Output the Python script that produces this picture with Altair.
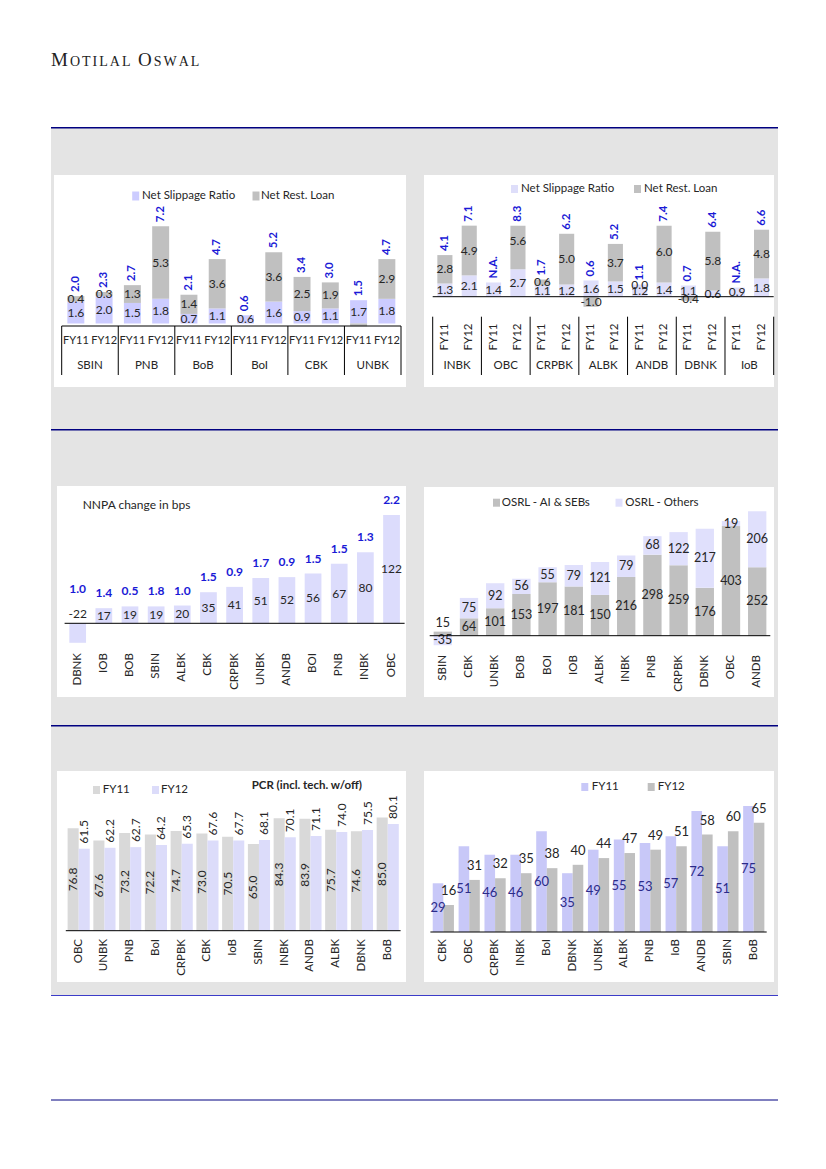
import altair as alt
import pandas as pd

# ---------------- chart values ----------------
years = ["FY11", "FY12"]

banks1 = ["SBIN", "PNB", "BoB", "BoI", "CBK", "UNBK"]
slip1 = [1.6, 2.0, 1.5, 1.8, 0.7, 1.1, 0.6, 1.6, 0.9, 1.1, 1.7, 1.8]
rest1 = [0.4, 0.3, 1.3, 5.3, 1.4, 3.6, 0.0, 3.6, 2.5, 1.9, -0.2, 2.9]
total1 = [2.0, 2.3, 2.7, 7.2, 2.1, 4.7, 0.6, 5.2, 3.4, 3.0, 1.5, 4.7]

banks2 = ["INBK", "OBC", "CRPBK", "ALBK", "ANDB", "DBNK", "IoB"]
slip2 = [1.3, 2.1, 1.4, 2.7, 1.1, 1.2, 1.6, 1.5, 1.2, 1.4, 1.1, 0.6, 0.9, 1.8]
rest2 = [2.8, 4.9, None, 5.6, 0.6, 5.0, -1.0, 3.7, 0.0, 6.0, -0.4, 5.8, None, 4.8]
total2 = [4.1, 7.1, None, 8.3, 1.7, 6.2, 0.6, 5.2, 1.1, 7.4, 0.7, 6.4, None, 6.6]

banks3 = ["DBNK", "IOB", "BOB", "SBIN", "ALBK", "CBK", "CRPBK", "UNBK", "ANDB", "BOI", "PNB", "INBK", "OBC"]
nnpa_chg = [-22, 17, 19, 19, 20, 35, 41, 51, 52, 56, 67, 80, 122]
nnpa_fy12 = [1.0, 1.4, 0.5, 1.8, 1.0, 1.5, 0.9, 1.7, 0.9, 1.5, 1.5, 1.3, 2.2]

banks4 = ["SBIN", "CBK", "UNBK", "BOB", "BOI", "IOB", "ALBK", "INBK", "PNB", "CRPBK", "DBNK", "OBC", "ANDB"]
osrl_ai = [15, 64, 101, 153, 197, 181, 150, 216, 298, 259, 176, 403, 252]
osrl_oth = [-35, 75, 92, 56, 55, 79, 121, 79, 68, 122, 217, 19, 206]

banks5 = ["OBC", "UNBK", "PNB", "BoI", "CRPBK", "CBK", "IoB", "SBIN", "INBK", "ANDB", "ALBK", "DBNK", "BoB"]
pcr_fy11 = [76.8, 67.6, 73.2, 72.2, 74.7, 73.0, 70.5, 65.0, 84.3, 83.9, 75.7, 74.6, 85.0]
pcr_fy12 = [61.5, 62.2, 62.7, 64.2, 65.3, 67.6, 67.7, 68.1, 70.1, 71.1, 74.0, 75.5, 80.1]

banks6 = ["CBK", "OBC", "CRPBK", "INBK", "BoI", "DBNK", "UNBK", "ALBK", "PNB", "IoB", "ANDB", "SBIN", "BoB"]
pcr6_fy11 = [29, 51, 46, 46, 60, 35, 49, 55, 53, 57, 72, 51, 75]
pcr6_fy12 = [16, 31, 32, 35, 38, 40, 44, 47, 49, 51, 58, 60, 65]

# ---------------- styling ----------------
FONT = "Lato"
BAND = "#e4e4e4"
NAVY = "#000080"
BLUE = "#1a1ad6"
INK = "#262626"

D = pd.DataFrame({"k": [0]})


def lin(d, r, **kw):
    return alt.Scale(domain=d, range=r, nice=False, zero=False, **kw)


def qx(f, sc):
    return alt.X(f, type="quantitative", scale=sc, axis=None)


def qy(f, sc):
    return alt.Y(f, type="quantitative", scale=sc, axis=None)


def rect(x0, x1, y0, y1, color):
    return alt.Chart(D).mark_rect(color=color).encode(
        x=alt.value(x0), x2=alt.value(x1), y=alt.value(y0), y2=alt.value(y1))


def hline(x0, x1, y, color, w=1.0):
    return alt.Chart(D).mark_rule(color=color, strokeWidth=w).encode(
        x=alt.value(x0), x2=alt.value(x1), y=alt.value(y))


def txt(s, x, y, size=11.5, color=INK, weight="normal", font=FONT, align="left"):
    return alt.Chart(D).mark_text(text=s, align=align, baseline="middle", fontSize=size,
                                  color=color, fontWeight=weight, font=font).encode(
        x=alt.value(x), y=alt.value(y))


def key(cx, cy, color, w=7, h=8):
    return rect(cx - w / 2, cx + w / 2, cy - h / 2, cy + h / 2, color)


def cell(w, h, box, layers, left=False):
    base = [rect(0, w + (2 if left else 0), 0, h, BAND), rect(box[0], box[1], box[2], box[3], "white"),
            hline(0, w + (2 if left else 0), 0.75, NAVY, 1.5)]
    return alt.layer(*base, *layers).properties(width=w, height=h)


def axis_line(sc, n, y):
    return alt.Chart(pd.DataFrame({"a": [0], "b": [n]})).mark_rule(color="black", strokeWidth=1).encode(
        x=qx("a", sc), x2="b", y=alt.value(y))


def cat_labels(banks, sc, y, size=11.5):
    df = pd.DataFrame({"xc": [i + 0.5 for i in range(len(banks))], "bank": banks})
    return alt.Chart(df).mark_text(angle=270, align="right", baseline="middle", fontSize=size,
                                   font=FONT, color=INK).encode(
        x=qx("xc", sc), y=alt.value(y), text="bank:N")


def bars(df, sc_x, sc_y, color, y="start", y2="end"):
    return alt.Chart(df).mark_rect(color=color).encode(
        x=qx("x0", sc_x), x2="x1", y=qy(y, sc_y), y2=y2)


def stack_frames(banks, slip, rest, total, pad):
    seg, tot, cat = [], [], []
    for i, s in enumerate(slip):
        r = rest[i]
        seg.append(dict(x0=i + pad, x1=i + 1 - pad, xc=i + 0.5, seg="slip", start=0.0, end=s,
                        mid=s / 2, lab=f"{s:.1f}", val=s))
        if r is not None:
            a, b = (s, s + r) if r >= 0 else (0.0, r)
            seg.append(dict(x0=i + pad, x1=i + 1 - pad, xc=i + 0.5, seg="rest", start=a, end=b,
                            mid=(a + b) / 2, lab=f"{r:.1f}", val=r))
        top = s + max(r or 0.0, 0.0)
        t = total[i]
        tot.append(dict(xc=i + 0.5, top=top, lab="N.A." if t is None else f"{t:.1f}"))
        cat.append(dict(xc=i + 0.5, yr=years[i % 2]))
    grp = pd.DataFrame({"xc": [2 * g + 1 for g in range(len(banks))], "bank": banks})
    div = pd.DataFrame({"xd": [2 * g for g in range(len(banks) + 1)]})
    return pd.DataFrame(seg), pd.DataFrame(tot), pd.DataFrame(cat), grp, div


# ---------------- panel 1 ----------------
P1_PUR, P1_GRY = "#ccccff", "#c0c0c0"
X1 = lin([0, 12], [10.7, 350])
Y1 = lin([0, 8], [196.5, 86.9])
s1, t1, c1, g1, d1 = stack_frames(banks1, slip1, rest1, total1, 0.2)
p1 = cell(364, 302, (3, 355, 48, 260), [
    key(84.7, 69, P1_PUR, 7, 9), txt("Net Slippage Ratio", 91, 69),
    key(205, 69, P1_GRY, 7, 9), txt("Net Rest. Loan", 210, 69),
    bars(s1[s1.seg == "slip"], X1, Y1, P1_PUR),
    bars(s1[s1.seg == "rest"], X1, Y1, P1_GRY),
    alt.Chart(s1[s1.val > 0]).mark_text(fontSize=12, font=FONT, color=INK, baseline="middle").encode(
        x=qx("xc", X1), y=qy("mid", Y1), text="lab:N"),
    alt.Chart(t1).mark_text(angle=270, align="left", baseline="middle", dx=4, fontSize=11.5,
                            fontWeight="bold", font=FONT, color=BLUE).encode(
        x=qx("xc", X1), y=qy("top", Y1), text="lab:N"),
    axis_line(X1, 12, 199),
    alt.Chart(d1).mark_rule(color="black").encode(x=qx("xd", X1), y=alt.value(199), y2=alt.value(248)),
    alt.Chart(c1).mark_text(fontSize=11, font=FONT, color=INK, baseline="middle").encode(
        x=qx("xc", X1), y=alt.value(213.7), text="yr:N"),
    alt.Chart(g1).mark_text(fontSize=11.5, font=FONT, color=INK, baseline="middle").encode(
        x=qx("xc", X1), y=alt.value(239), text="bank:N"),
], left=True)

# ---------------- panel 2 ----------------
P2_PUR, P2_GRY = "#dedefa", "#c0c0c0"
X2 = lin([0, 14], [17.7, 358.7])
Y2 = lin([-1.5, 7], [184.9, 98.65])
s2, t2, c2, g2, d2 = stack_frames(banks2, slip2, rest2, total2, 0.19)
p2 = cell(363, 302, (9, 359, 48, 260), [
    key(99.5, 62, P2_PUR, 7, 8), txt("Net Slippage Ratio", 106, 62),
    key(222.5, 62, P2_GRY, 7, 8), txt("Net Rest. Loan", 229, 62),
    bars(s2[s2.seg == "slip"], X2, Y2, P2_PUR),
    alt.Chart(s2[s2.seg == "rest"]).transform_calculate(e2="min(datum.end, 7)").mark_rect(color=P2_GRY).encode(
        x=qx("x0", X2), x2="x1", y=qy("start", Y2), y2="e2:Q"),
    alt.Chart(s2).mark_text(fontSize=12, font=FONT, color=INK, baseline="middle").encode(
        x=qx("xc", X2), y=qy("mid", Y2), text="lab:N"),
    alt.Chart(t2).transform_calculate(t2="min(datum.top, 7)").mark_text(
        angle=270, align="left", baseline="middle", dx=4, fontSize=11.5,
        fontWeight="bold", font=FONT, color=BLUE).encode(
        x=qx("xc", X2), y=qy("t2", Y2), text="lab:N"),
    axis_line(X2, 14, 169.7),
    alt.Chart(d2).mark_rule(color="black").encode(x=qx("xd", X2), y=alt.value(189.7), y2=alt.value(248)),
    alt.Chart(c2).mark_text(angle=270, align="center", baseline="middle", fontSize=11.5, font=FONT,
                            color=INK).encode(x=qx("xc", X2), y=alt.value(210), text="yr:N"),
    alt.Chart(g2).mark_text(fontSize=11.5, font=FONT, color=INK, baseline="middle").encode(
        x=qx("xc", X2), y=alt.value(239), text="bank:N"),
])

# ---------------- panel 3 ----------------
P3_PUR = "#dcdcfc"
X3 = lin([0, 13], [13.6, 353.6])
Y3 = lin([-30, 130], [220.9, 78.9])
df3 = pd.DataFrame({
    "x0": [i + 0.18 for i in range(len(banks3))], "x1": [i + 0.82 for i in range(len(banks3))],
    "xc": [i + 0.5 for i in range(len(banks3))], "v": nnpa_chg, "zero": [0] * len(banks3),
    "top": [abs(v) for v in nnpa_chg], "mid": [abs(v) / 2 for v in nnpa_chg],
    "lab": [str(v) for v in nnpa_chg], "pct": [f"{p:.1f}" for p in nnpa_fy12]})
p3 = cell(364, 296, (6, 355, 57, 268), [
    txt("NNPA change in bps", 31.7, 76, 12),
    bars(df3, X3, Y3, P3_PUR, y="v", y2="zero"),
    alt.Chart(df3).mark_text(fontSize=12, font=FONT, color=INK, baseline="middle").encode(
        x=qx("xc", X3), y=qy("mid", Y3), text="lab:N"),
    alt.Chart(df3).mark_text(fontSize=12, font=FONT, color=BLUE, fontWeight="bold", baseline="middle",
                             dy=-15).encode(x=qx("xc", X3), y=qy("top", Y3), text="pct:N"),
    axis_line(X3, 13, 194.3),
    cat_labels(banks3, X3, 224),
], left=True)

# ---------------- panel 4 ----------------
P4_GRY, P4_PUR = "#c0c0c0", "#e0e0fc"
X4 = lin([0, 13], [14.7, 355.3])
Y4 = lin([-50, 470], [220.3, 78.9])
rows4 = []
for i, (a, o) in enumerate(zip(osrl_ai, osrl_oth)):
    s0, e0 = (0, a)
    if o >= 0:
        s1_, e1_ = max(a, 0), max(a, 0) + o
    else:
        s1_, e1_ = min(a, 0), min(a, 0) + o
    for seg, s, e, v in (("ai", s0, e0, a), ("oth", s1_, e1_, o)):
        m = (s + e) / 2
        if s == 0 and 0 < e < 25:
            m = e + 30
        rows4.append(dict(x0=i + 0.15, x1=i + 0.85, xc=i + 0.5, seg=seg, start=s, end=e, mid=m, lab=str(v)))
df4 = pd.DataFrame(rows4)
p4 = cell(363, 296, (9, 359, 58, 268), [
    key(81.5, 73.7, P4_GRY, 7, 8), txt("OSRL - AI & SEBs", 86.7, 73.7),
    key(204, 73.7, P4_PUR, 7, 8), txt("OSRL - Others", 210.3, 73.7),
    bars(df4[df4.seg == "ai"], X4, Y4, P4_GRY),
    bars(df4[df4.seg == "oth"], X4, Y4, P4_PUR),
    alt.Chart(df4).mark_text(fontSize=12.5, font=FONT, color=INK, baseline="middle").encode(
        x=qx("xc", X4), y=qy("mid", Y4), text="lab:N"),
    axis_line(X4, 13, 206.7),
    cat_labels(banks4, X4, 226),
])

# ---------------- panel 5 ----------------
P5_GRY, P5_PUR = "#d9d9d9", "#dcdcfa"
X5 = lin([0, 13], [14.8, 349.6])
Y5 = lin([0, 100], [205.7, 72.4])
rows5 = []
for i in range(len(banks5)):
    rows5.append(dict(yr="FY11", x0=i + 0.07, x1=i + 0.5, xc=i + 0.285, v=pcr_fy11[i], zero=0,
                      mid=pcr_fy11[i] / 2, lab=f"{pcr_fy11[i]:.1f}"))
    rows5.append(dict(yr="FY12", x0=i + 0.5, x1=i + 0.93, xc=i + 0.715, v=pcr_fy12[i], zero=0,
                      mid=pcr_fy12[i] / 2, lab=f"{pcr_fy12[i]:.1f}"))
df5 = pd.DataFrame(rows5)
p5 = cell(364, 270, (6, 355, 46, 257), [
    key(45.5, 65, P5_GRY, 7, 8), txt("FY11", 51.7, 65),
    key(104.5, 65, P5_PUR, 7, 8), txt("FY12", 110, 65),
    txt("PCR (incl. tech. w/off)", 200.7, 60.7, 11.5, weight="bold"),
    bars(df5[df5.yr == "FY11"], X5, Y5, P5_GRY, y="v", y2="zero"),
    bars(df5[df5.yr == "FY12"], X5, Y5, P5_PUR, y="v", y2="zero"),
    alt.Chart(df5[df5.yr == "FY11"]).mark_text(angle=270, align="center", baseline="middle", fontSize=12,
                                               font=FONT, color=INK).encode(
        x=qx("xc", X5), y=qy("mid", Y5), text="lab:N"),
    alt.Chart(df5[df5.yr == "FY12"]).mark_text(angle=270, align="left", baseline="middle", dx=5,
                                               fontSize=12, font=FONT, color=INK).encode(
        x=qx("xc", X5), y=qy("v", Y5), text="lab:N"),
    axis_line(X5, 13, 205.7),
    cat_labels(banks5, X5, 214),
], left=True)

# ---------------- panel 6 ----------------
P6_PUR, P6_GRY = "#c8c8f8", "#c0c0c0"
X6 = lin([0, 13], [15.4, 351.7])
Y6 = lin([0, 80], [207, 72.6])
rows6 = []
for i in range(len(banks6)):
    rows6.append(dict(yr="FY11", x0=i + 0.09, x1=i + 0.5, xc=i + 0.295, v=pcr6_fy11[i], zero=0,
                      mid=pcr6_fy11[i] / 2, lab=str(pcr6_fy11[i])))
    rows6.append(dict(yr="FY12", x0=i + 0.5, x1=i + 0.91, xc=i + 0.705, v=pcr6_fy12[i], zero=0,
                      mid=pcr6_fy12[i] / 2, lab=str(pcr6_fy12[i])))
df6 = pd.DataFrame(rows6)
p6 = cell(363, 270, (9, 359, 46, 257), [
    key(169.8, 62, P6_PUR, 7, 8), txt("FY11", 176.7, 62),
    key(236.2, 62, P6_GRY, 7, 8), txt("FY12", 242.7, 62),
    bars(df6[df6.yr == "FY11"], X6, Y6, P6_PUR, y="v", y2="zero"),
    bars(df6[df6.yr == "FY12"], X6, Y6, P6_GRY, y="v", y2="zero"),
    alt.Chart(df6[df6.yr == "FY11"]).mark_text(fontSize=13, font=FONT, color="#2b2b8a", baseline="middle").encode(
        x=qx("xc", X6), y=qy("mid", Y6), text="lab:N"),
    alt.Chart(df6[df6.yr == "FY12"]).mark_text(fontSize=13, font=FONT, color=INK, baseline="middle",
                                               dy=-14).encode(
        x=qx("xc", X6), y=qy("v", Y6), text="lab:N"),
    axis_line(X6, 13, 207),
    cat_labels(banks6, X6, 214),
])

# ---------------- header / footer ----------------
logo = [("M", 19), ("O", 14), ("T", 14), ("I", 14), ("L", 14), ("A", 14), ("L", 14), (" ", 14),
        ("O", 19), ("S", 14), ("W", 14), ("A", 14), ("L", 14)]
em = {"M": .889, "O": .722, "T": .611, "I": .333, "L": .611, "A": .722, "S": .556, "W": .944, " ": .25}
lx, cur = [], 0.0
for ch, sz in logo:
    lx.append(cur)
    cur += em[ch] * sz + 2.0
logo_df = pd.DataFrame({"ch": [c for c, _ in logo], "sz": [s for _, s in logo], "x": lx})
logo_df = logo_df[logo_df.ch != " "]
header = alt.Chart(logo_df).mark_text(align="left", baseline="alphabetic", font="Liberation Serif",
                                       color="#222222").encode(
    x=alt.X("x:Q", scale=None), y=alt.value(58), text="ch:N", size=alt.Size("sz:Q", scale=None, legend=None)
).properties(width=727, height=119)

footer = alt.layer(hline(0, 727, 0.5, "#3c3cc8", 1), hline(0, 727, 105, NAVY, 1)).properties(width=727, height=110)

row1 = alt.hconcat(p1, p2, spacing=0, bounds="flush")
row2 = alt.hconcat(p3, p4, spacing=0, bounds="flush")
row3 = alt.hconcat(p5, p6, spacing=0, bounds="flush")

chart = alt.vconcat(header, row1, row2, row3, footer, spacing=0).properties(
    padding={"left": 42, "top": 0, "right": 0, "bottom": 0}
).configure_view(strokeWidth=0)

chart.save("out.html", embed_options={"renderer": "svg", "actions": False})
